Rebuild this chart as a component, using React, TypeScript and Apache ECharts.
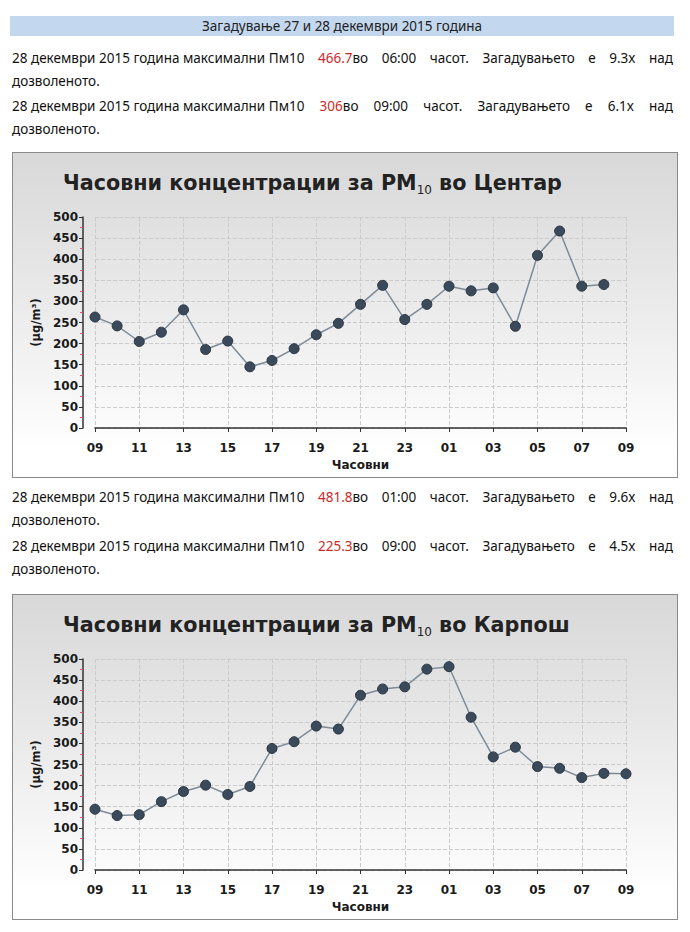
import React, { useEffect, useRef } from "react";
import * as echarts from "echarts";

const hours = [
  "09", "10", "11", "12", "13", "14", "15", "16", "17", "18", "19", "20",
  "21", "22", "23", "00", "01", "02", "03", "04", "05", "06", "07", "08", "09",
];

const centarValues: (number | null)[] = [
  263, 242, 205, 227, 280, 186, 206, 145, 160, 188, 221, 248,
  293, 338, 257, 293, 336, 325, 332, 241, 409, 466.7, 336, 340, null,
];

const karposValues: (number | null)[] = [
  144, 129, 131, 162, 186, 201, 179, 198, 288, 304, 341, 334,
  414, 429, 434, 476, 481.8, 362, 268, 291, 245, 241, 219, 229, 228,
];

const yMin = 0;
const yMax = 500;
const yStep = 50;

const headerTitle = "Загадување 27 и 28 декември 2015 година";

const paragraphs = [
  { value: "466.7", hour: "06:00", factor: "9.3x" },
  { value: "306", hour: "09:00", factor: "6.1x" },
  { value: "481.8", hour: "01:00", factor: "9.6x" },
  { value: "225.3", hour: "09:00", factor: "4.5x" },
];

const chartFont = "'DejaVu Sans', sans-serif";

function makeOption(station: string, values: (number | null)[]) {
  const labelStyle = {
    fontFamily: chartFont,
    fontWeight: "bold" as const,
    fontSize: 12,
    color: "#1a1a1a",
  };
  return {
    animation: false,
    backgroundColor: "transparent",
    graphic: [
      {
        type: "text",
        left: 50,
        top: 19,
        style: {
          text: `{a|Часовни концентрации за PM}{s|10}{a| во ${station}}`,
          rich: {
            a: {
              fontFamily: chartFont,
              fontSize: 20.7,
              fontWeight: "bold",
              fill: "#222",
              lineHeight: 26,
            },
            s: {
              fontFamily: chartFont,
              fontSize: 12,
              fill: "#222",
              lineHeight: 26,
              verticalAlign: "bottom",
              padding: [7, 0, 0, 0],
            },
          },
        },
      },
    ],
    grid: { left: 82, top: 64, width: 531, height: 211 },
    xAxis: {
      type: "category",
      data: hours,
      boundaryGap: false,
      offset: 9,
      name: "Часовни",
      nameLocation: "middle",
      nameGap: 22,
      nameTextStyle: { ...labelStyle },
      axisLine: { show: true, lineStyle: { color: "#333", width: 1.5 } },
      axisTick: { show: true, interval: 1, length: 4, lineStyle: { color: "#333" } },
      axisLabel: { ...labelStyle, interval: 1, margin: 5 },
      splitLine: {
        show: true,
        interval: 1,
        lineStyle: { type: "dashed", color: "#cbcbcb", width: 1 },
      },
    },
    yAxis: {
      type: "value",
      min: yMin,
      max: yMax,
      interval: yStep,
      offset: 12,
      name: "(µg/m³)",
      nameLocation: "middle",
      nameGap: 35,
      nameTextStyle: { ...labelStyle, fontSize: 11.5 },
      axisLine: { show: true, lineStyle: { color: "#333", width: 1.5 } },
      axisTick: { show: true, length: 4, lineStyle: { color: "#333" } },
      minorTick: { show: true, splitNumber: 2, length: 3, lineStyle: { color: "#e0506a" } },
      axisLabel: { ...labelStyle, margin: 5 },
      splitLine: {
        show: true,
        lineStyle: { type: "dashed", color: "#cbcbcb", width: 1 },
      },
    },
    series: [
      {
        type: "line",
        data: values,
        symbol: "circle",
        symbolSize: 10,
        connectNulls: false,
        lineStyle: { color: "#7d8b99", width: 1.5 },
        itemStyle: { color: "#3b4a5b", borderColor: "#2a3542", borderWidth: 1 },
      },
    ],
  };
}

function Chart({ station, values, top }: { station: string; values: (number | null)[]; top: number }) {
  const ref = useRef<HTMLDivElement>(null);
  useEffect(() => {
    if (!ref.current) return;
    const chart = echarts.init(ref.current, undefined, { renderer: "svg" });
    chart.setOption(makeOption(station, values) as any);
    return () => chart.dispose();
  }, [station, values]);
  return (
    <div
      style={{
        position: "absolute",
        left: 12,
        top,
        width: 666,
        height: 326,
        boxSizing: "border-box",
        border: "1px solid #8a8a8a",
        background: "linear-gradient(#d8d8d8 0%, #ececec 50%, #ffffff 92%)",
      }}
    >
      <div ref={ref} style={{ width: 664, height: 324 }} />
    </div>
  );
}

function Para({ p, top }: { p: (typeof paragraphs)[number]; top: number }) {
  const line: React.CSSProperties = {
    position: "absolute",
    left: 12,
    width: 661,
    height: 22,
    lineHeight: "22px",
    fontSize: 13.5,
    color: "#111",
  };
  return (
    <>
      <div style={{ ...line, top, textAlign: "justify", textAlignLast: "justify" } as any}>
        <span style={{ display: "inline-block", whiteSpace: "pre" }}>28 декември 2015 година максимални Пм10</span>{" "}
        <span style={{ color: "#cc2a2a" }}>{p.value}</span>во {p.hour} часот. Загадувањето е {p.factor} над
      </div>
      <div style={{ ...line, top: top + 23 }}>дозволеното.</div>
    </>
  );
}

export default function App() {
  useEffect(() => {
    document.body.style.margin = "0";
  }, []);
  return (
    <div
      style={{
        position: "relative",
        width: 690,
        height: 932,
        background: "#fff",
        fontFamily: "'Noto Sans', 'Open Sans', sans-serif",
        overflow: "hidden",
      }}
    >
      <div
        style={{
          position: "absolute",
          left: 10,
          top: 16,
          width: 664,
          height: 20,
          lineHeight: "20px",
          background: "#c3d8ef",
          textAlign: "center",
          fontSize: 13.5,
          color: "#222",
        }}
      >
        {headerTitle}
      </div>
      <Para p={paragraphs[0]} top={47} />
      <Para p={paragraphs[1]} top={95} />
      <Chart station="Центар" values={centarValues} top={152} />
      <Para p={paragraphs[2]} top={486} />
      <Para p={paragraphs[3]} top={535} />
      <Chart station="Карпош" values={karposValues} top={594} />
    </div>
  );
}
